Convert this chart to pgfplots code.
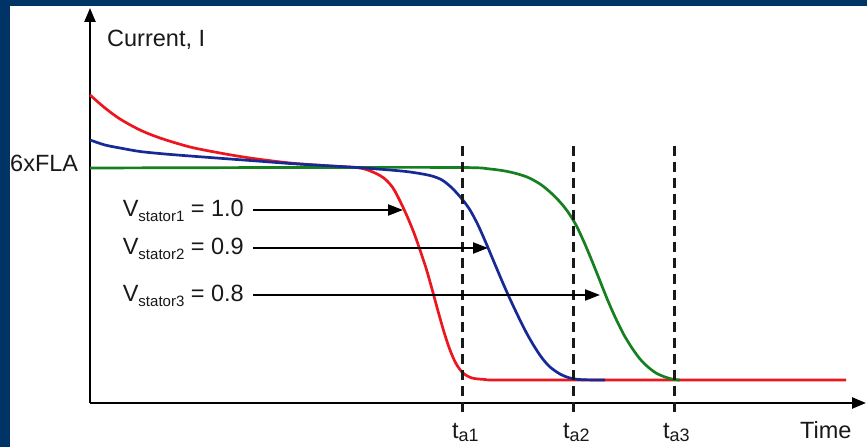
\documentclass[border=0pt]{standalone}
\usepackage{fontspec}
\setmainfont{Liberation Sans}
\usepackage{pgfplots}
\pgfplotsset{compat=1.18}
\usetikzlibrary{arrows.meta}

\definecolor{framecol}{RGB}{0,51,102}
\definecolor{cred}{RGB}{236,22,30}
\definecolor{cblue}{RGB}{22,42,150}
\definecolor{cgreen}{RGB}{22,128,30}
\definecolor{txt}{RGB}{25,25,25}

\newcommand{\lbl}{\fontsize{23.5bp}{26bp}\selectfont}
\newcommand{\Vsub}[1]{V\raisebox{-5bp}{\fontsize{15bp}{15bp}\selectfont stator#1}}
\newcommand{\tsub}[1]{t\raisebox{-3bp}{\fontsize{18bp}{18bp}\selectfont a#1}}

\begin{document}
\begin{tikzpicture}
\useasboundingbox (0,0) rectangle (867bp,447bp);
\fill[white] (0,0) rectangle (867bp,447bp);
\fill[framecol] (0,441bp) rectangle (867bp,447bp);
\fill[framecol] (0,0) rectangle (10bp,447bp);
\begin{axis}[
  at={(90bp,44bp)}, anchor=south west,
  scale only axis, width=776bp, height=395bp,
  xmin=0, xmax=776, ymin=0, ymax=395,
  axis lines=left,
  axis line style={line width=2.4bp, black},
  every outer x axis line/.append style={-{Triangle[length=14bp,width=11bp]}},
  every outer y axis line/.append style={-{Triangle[length=14bp,width=11bp]}},
  ticks=none,
  clip=false,
]
% run-up current for the three stator voltages
\addplot[cred, line width=2.7bp, smooth] coordinates {
 (0,308) (15,295) (30,284) (50,273) (70,265) (100,256) (130,250)
 (160,245) (200,240) (240,237) (270,235) (285,230) (295,224) (303,215)
 (310,202) (317,187) (324,170) (330,153) (336,135) (342,114) (348,92)
 (354,71) (360,53) (366,39.5) (373,30) (382,25) (395,23.5) (410,23)
 (550,23) (756,23)};
\addplot[cgreen, line width=2.7bp, smooth] coordinates {
 (0,235) (200,235.5) (370,235.5) (400,234) (420,231) (437,226) (450,219)
 (460,211) (470,201) (478,191) (486,178) (494,161) (502,142) (510,122)
 (518,102) (526,84) (534,68) (542,55) (550,44) (558,36) (566,30)
 (575,26) (584,23.5) (590,23)};
\addplot[cblue, line width=2.7bp, smooth] coordinates {
 (0,263) (15,258) (30,255) (50,251.5) (75,249) (100,247) (133,244.5)
 (167,242) (200,239.5) (233,237.5) (267,235.5) (300,233) (320,231)
 (340,227.5) (352,223) (362,215) (372,204) (380,193) (388,178) (396,160)
 (404,141) (412,122) (420,104) (428,87) (436,71) (444,57) (452,45)
 (460,36) (470,29) (480,25) (492,23.3) (515,23)};

% acceleration times
\foreach \xx in {372,483,584}{
  \edef\tmp{\noexpand\draw[line width=3bp, dash pattern=on 10bp off 6bp, txt]
    (axis cs:\xx,257) -- (axis cs:\xx,-11);}
  \tmp
}

% stator voltage arrows
\draw[line width=2.2bp, -{Triangle[length=15bp,width=11bp]}] (axis cs:163,193) -- (axis cs:313,193);
\draw[line width=2.2bp, -{Triangle[length=15bp,width=11bp]}] (axis cs:163,155) -- (axis cs:398,155);
\draw[line width=2.2bp, -{Triangle[length=15bp,width=11bp]}] (axis cs:163,108) -- (axis cs:510,108);

\node[anchor=base east, inner sep=0pt, text=txt] at (axis cs:154,186) {\lbl\Vsub{1} = 1.0};
\node[anchor=base east, inner sep=0pt, text=txt] at (axis cs:154,148) {\lbl\Vsub{2} = 0.9};
\node[anchor=base east, inner sep=0pt, text=txt] at (axis cs:154,101) {\lbl\Vsub{3} = 0.8};

\node[anchor=base west, inner sep=0pt, text=txt] at (axis cs:17,356) {\lbl Current, I};
\node[anchor=base west, inner sep=0pt, text=txt] at (axis cs:-80,231) {\lbl 6xFLA};
\node[anchor=base west, inner sep=0pt, text=txt] at (axis cs:710,-35) {\lbl Time};
\node[anchor=base west, inner sep=0pt, text=txt] at (axis cs:362,-35) {\lbl\tsub{1}};
\node[anchor=base west, inner sep=0pt, text=txt] at (axis cs:473,-35) {\lbl\tsub{2}};
\node[anchor=base west, inner sep=0pt, text=txt] at (axis cs:573,-35) {\lbl\tsub{3}};
\end{axis}
\end{tikzpicture}
\end{document}
